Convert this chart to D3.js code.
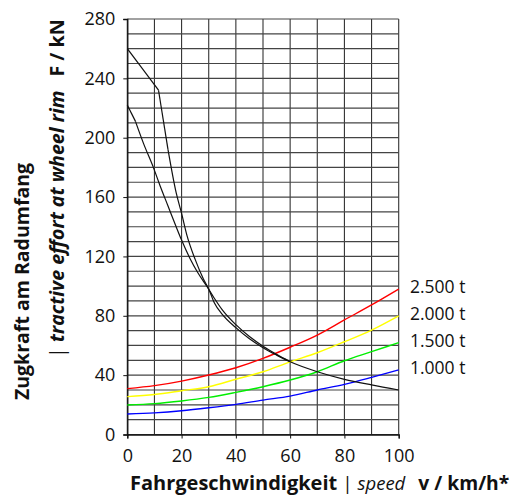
<!DOCTYPE html>
<html>
<head>
<meta charset="utf-8">
<script src="https://cdn.jsdelivr.net/npm/d3@7"></script>
<style>
  body { margin: 0; background: #fff; }
  text { font-family: "Open Sans", "Liberation Sans", sans-serif; fill: #111; }
</style>
</head>
<body>
<div id="chart"></div>
<script>
// speed (km/h) and tractive effort (kN)
var speedTicks = [0, 20, 40, 60, 80, 100];
var forceTicks = [0, 40, 80, 120, 160, 200, 240, 280];

// tractive effort curves (black)
var curveA_v = [0, 11.5, 15, 18, 20, 22, 25, 28, 30, 32, 35, 40, 45, 50, 55, 60, 70, 80, 90, 100];
var curveA_F = [260, 232, 192, 163, 149, 134, 118, 105, 98, 89, 81, 72, 64.5, 58.5, 53.5, 49, 42.3, 37.2, 33.4, 30];
var curveB_v = [0, 3, 6, 9.6, 12, 15, 18, 20, 23, 26, 29.4, 32, 35, 40, 45, 50, 55, 60];
var curveB_F = [222, 211, 196, 180, 168, 154, 140, 131, 119, 109, 99.6, 92, 84, 74, 66, 59.5, 54, 49];

// running resistance by train mass
var massLabels = ["2.500 t", "2.000 t", "1.500 t", "1.000 t"];
var massColors = ["#ff0000", "#ffff00", "#00ee00", "#0000ff"];
var resV = [0, 10, 20, 30, 40, 50, 60, 70, 80, 90, 100];
var res2500 = [30.9, 32.9, 36, 40.1, 45, 51.3, 58.8, 67, 77.2, 87.3, 98];
var res2000 = [25.5, 27, 29.5, 32.2, 37.2, 42.3, 49, 55.1, 62.5, 70.4, 80];
var res1500 = [19.9, 20.8, 22.6, 25, 28.4, 32.2, 36.7, 42.3, 49.7, 55.8, 61.9];
var res1000 = [13.8, 14.6, 16, 18, 20.3, 23.2, 25.9, 30, 33.8, 38.5, 43.5];

var W = 510, H = 495;
var plotL = 127.3, plotR = 398.7, plotT = 19, plotB = 434.5;

var svg = d3.select("#chart").append("svg").attr("width", W).attr("height", H);

var x = d3.scaleLinear().domain([0, 100]).range([plotL, plotR]);
var y = d3.scaleLinear().domain([0, 280]).range([plotB, plotT]);

// grid
var g = svg.append("g");
g.selectAll(".vg").data(d3.range(0, 101, 10)).enter().append("line")
  .attr("x1", d => x(d)).attr("x2", d => x(d)).attr("y1", y(0)).attr("y2", y(280))
  .attr("stroke", "#333").attr("stroke-width", 1.1);
g.selectAll(".hg").data(d3.range(0, 281, 10)).enter().append("line")
  .attr("x1", x(0)).attr("x2", x(100)).attr("y1", d => y(d)).attr("y2", d => y(d))
  .attr("stroke", "#444").attr("stroke-width", 1.2);

// axes
var yAxis = d3.axisLeft(y).tickValues(forceTicks).tickSize(4).tickPadding(6);
var xAxis = d3.axisBottom(x).tickValues(speedTicks).tickSize(4).tickPadding(6);
var ya = svg.append("g").attr("transform", "translate(" + plotL + ",0)").call(yAxis);
var xa = svg.append("g").attr("transform", "translate(0," + plotB + ")").call(xAxis);
[ya, xa].forEach(function(a) {
  a.selectAll("path").attr("stroke", "#111").attr("stroke-width", 1.3);
  a.selectAll("line").attr("stroke", "#111");
  a.selectAll("text").attr("font-size", 18).attr("font-family", "Open Sans, Liberation Sans, sans-serif").attr("fill", "#111");
});
xa.selectAll("text").attr("dy", "0.95em");
ya.selectAll("text").attr("x", -12);

var line = d3.line().x(d => x(d[0])).y(d => y(d[1])).curve(d3.curveMonotoneX);
var lineLin = d3.line().x(d => x(d[0])).y(d => y(d[1]));

// colored resistance curves
var resSeries = [res2500, res2000, res1500, res1000];
resSeries.forEach(function(vals, i) {
  svg.append("path").datum(resV.map((v, k) => [v, vals[k]]))
    .attr("d", line).attr("fill", "none")
    .attr("stroke", massColors[i]).attr("stroke-width", 1.4);
  svg.append("text").attr("x", 410).attr("y", y(vals[vals.length - 1]) - 2)
    .attr("dy", "0.35em").attr("font-size", 17.5).text(massLabels[i]);
});

// black tractive effort curves
function pts(vs, fs) {
  return vs.map((v, k) => [v, fs[k]]);
}
var ptsA = pts(curveA_v, curveA_F);
var ptsB = pts(curveB_v, curveB_F);
function blk(data, gen) {
  svg.append("path").datum(data).attr("d", gen)
    .attr("fill", "none").attr("stroke", "#111").attr("stroke-width", 1.2);
}
blk(ptsA.slice(0, 2), lineLin);
blk(ptsA.slice(1, 3), lineLin);
blk(ptsA.slice(2), line);
blk(ptsB.slice(0, 2), lineLin);
blk(ptsB.slice(1), line);

// x title
var xt = svg.append("text").attr("x", 130).attr("y", 490).attr("font-size", 20);
xt.append("tspan").attr("font-weight", "bold").text("Fahrgeschwindigkeit");
xt.append("tspan").attr("font-size", 19).text(" | ");
xt.append("tspan").attr("font-style", "italic").attr("font-size", 18.5).text("speed");
xt.append("tspan").attr("font-weight", "bold").attr("font-size", 19.3).attr("dx", 13).text("v / km/h*");

// y titles
svg.append("text").attr("transform", "translate(29,400) rotate(-90)")
  .attr("font-size", 19.5).attr("font-weight", "bold").text("Zugkraft am Radumfang");
var yt2 = svg.append("text").attr("transform", "translate(64,358) rotate(-90)")
  .attr("font-size", 19.6);
yt2.append("tspan").text("| ");
yt2.append("tspan").attr("font-style", "italic").attr("font-weight", "bold").text("tractive effort at wheel rim");
yt2.append("tspan").attr("font-weight", "bold").attr("dx", 14).text("F / kN");
</script>
</body>
</html>
